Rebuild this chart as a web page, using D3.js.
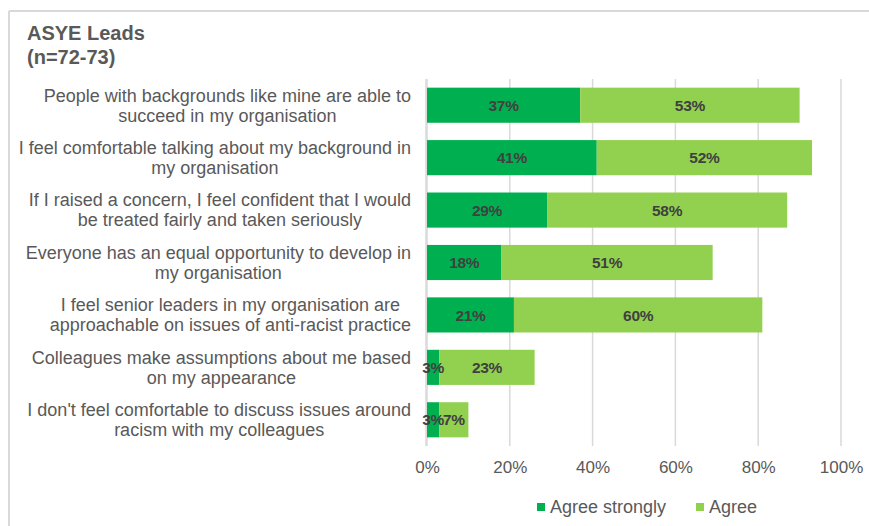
<!DOCTYPE html>
<html>
<head>
<meta charset="utf-8">
<script src="https://cdn.jsdelivr.net/npm/d3@7/dist/d3.min.js"></script>
<style>
  html, body { margin: 0; padding: 0; background: #fff; }
  svg { display: block; font-family: "Liberation Sans", Arial, sans-serif; }
</style>
</head>
<body>
<svg id="chart" width="869" height="526"></svg>
<script>
// Survey statements (line breaks mark how each label wraps)
const categories = [
  "People with backgrounds like mine are able to\nsucceed in my organisation",
  "I feel comfortable talking about my background in\nmy organisation",
  "If I raised a concern, I feel confident that I would\nbe treated fairly and taken seriously",
  "Everyone has an equal opportunity to develop in\nmy organisation",
  "I feel senior leaders in my organisation are\napproachable on issues of anti-racist practice",
  "Colleagues make assumptions about me based\non my appearance",
  "I don't feel comfortable to discuss issues around\nracism with my colleagues"
];
const seriesNames = ["Agree strongly", "Agree"];
const agreeStrongly = [37, 41, 29, 18, 21, 3, 3];
const agree = [53, 52, 58, 51, 60, 23, 7];
const tickValues = [0, 20, 40, 60, 80, 100];
const seriesColors = ["#00B050", "#92D050"];

const svg = d3.select("#chart");
const textColor = "#595959";

// Frame lines (top and left)
svg.append("line").attr("x1", 9).attr("x2", 869).attr("y1", 11).attr("y2", 11)
  .attr("stroke", "#d9d9d9").attr("stroke-width", 2);
svg.append("line").attr("x1", 9).attr("x2", 9).attr("y1", 11).attr("y2", 526)
  .attr("stroke", "#d9d9d9").attr("stroke-width", 2);

// Title
const title = svg.append("text").attr("x", 27).attr("fill", textColor)
  .attr("font-size", 20).attr("font-weight", "bold");
title.append("tspan").attr("x", 27).attr("y", 40).text("ASYE Leads");
title.append("tspan").attr("x", 27).attr("y", 64).text("(n=72-73)");

// Scales
const x = d3.scaleLinear().domain([0, 100]).range([427, 841]);
const y = d3.scaleBand().domain(d3.range(categories.length))
  .range([79, 446]).paddingInner(0.33).paddingOuter(0.165);

// Gridlines
svg.append("g").selectAll("line").data(tickValues).join("line")
  .attr("x1", d => x(d)).attr("x2", d => x(d))
  .attr("y1", 79).attr("y2", 446)
  .attr("stroke", "#d9d9d9").attr("stroke-width", 1.5);

// X axis tick labels
const xAxis = d3.axisBottom(x).tickValues(tickValues).tickFormat(d => d + "%").tickSize(0).tickPadding(0);
const gx = svg.append("g").attr("transform", "translate(0,460)").call(xAxis);
gx.select(".domain").remove();
gx.selectAll("text").attr("fill", textColor).attr("font-size", 17)
  .attr("font-family", "Liberation Sans, Arial, sans-serif").attr("dy", "0.77em");

// Stacked bars
const rows = categories.map((c, i) => ({ i, vals: [agreeStrongly[i], agree[i]] }));
const stack = d3.stack().keys([0, 1]).value((d, k) => d.vals[k]);
const layers = stack(rows);

const layerG = svg.append("g").selectAll("g").data(layers).join("g")
  .attr("fill", (d, k) => seriesColors[k]);
layerG.selectAll("rect").data(d => d).join("rect")
  .attr("x", d => x(d[0]))
  .attr("width", d => x(d[1]) - x(d[0]))
  .attr("y", d => y(d.data.i))
  .attr("height", y.bandwidth());

// Axis line at 0
svg.append("line").attr("x1", x(0) - 1).attr("x2", x(0) - 1).attr("y1", 79).attr("y2", 446)
  .attr("stroke", "#d9d9d9").attr("stroke-width", 1.5);

// Value labels, drawn above every bar segment
svg.append("g").selectAll("text").data(layers.flat()).join("text")
  .attr("x", d => (x(d[0]) + x(d[1])) / 2)
  .attr("y", d => y(d.data.i) + y.bandwidth() / 2)
  .attr("dy", "0.36em")
  .attr("text-anchor", "middle")
  .attr("fill", "#404040")
  .attr("font-size", 15.5)
  .attr("letter-spacing", -0.3)
  .attr("font-weight", "bold")
  .text(d => (d[1] - d[0]) + "%");

// Category labels: wrapped lines centred within a block right-aligned at the axis
const labelRight = 411;
const lineH = 20;
const catG = svg.append("g");
categories.forEach((c, i) => {
  const lines = c.split("\n");
  const t = catG.append("text").attr("fill", textColor).attr("font-size", 18)
    .attr("text-anchor", "middle");
  const cy = y(i) + y.bandwidth() / 2;
  const spans = lines.map((ln, j) =>
    t.append("tspan").attr("y", cy + (j - (lines.length - 1) / 2) * lineH).attr("dy", "0.35em").text(ln));
  const maxW = d3.max(spans, s => s.node().getComputedTextLength());
  spans.forEach(s => s.attr("x", labelRight - maxW / 2));
});

// Legend
const legendItems = [
  { name: seriesNames[0], color: seriesColors[0], sx: 537 },
  { name: seriesNames[1], color: seriesColors[1], sx: 696 }
];
const lg = svg.append("g").selectAll("g").data(legendItems).join("g");
lg.append("rect").attr("x", d => d.sx).attr("y", 503).attr("width", 8).attr("height", 8)
  .attr("fill", d => d.color);
lg.append("text").attr("x", d => d.sx + 13).attr("y", 513)
  .attr("fill", textColor).attr("font-size", 18).text(d => d.name);
</script>
</body>
</html>
